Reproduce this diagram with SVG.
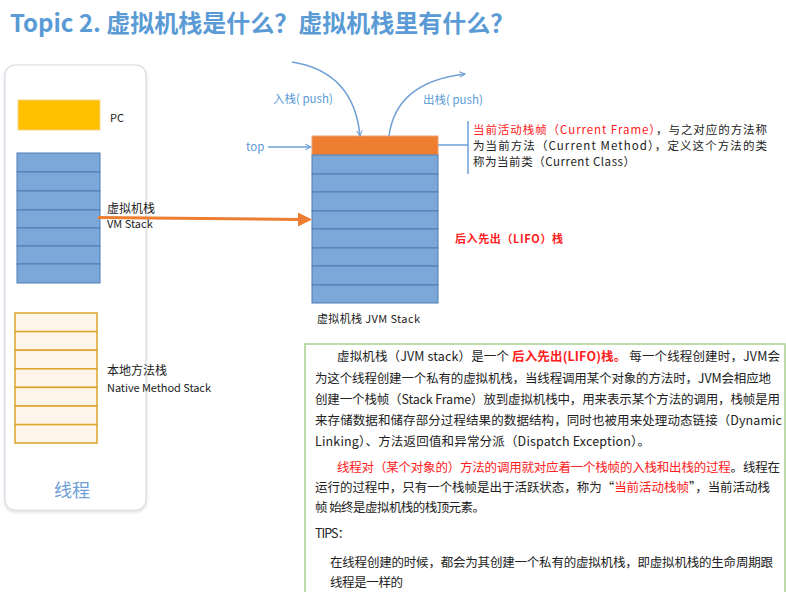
<svg xmlns="http://www.w3.org/2000/svg" width="786" height="592" viewBox="0 0 786 592">
<style>
text{font-family:"Noto Sans CJK SC","Noto Sans",sans-serif;}
.title{font-size:24px;font-weight:bold;fill:#5B9BD5;}
.lbl{font-size:11px;fill:#222;}
.blue{fill:#7BA7D9;stroke:#4E7DB3;stroke-width:1;}
.nat{fill:#FDF5EA;stroke:#DDA52A;stroke-width:1.5;}
.body{font-size:12.5px;fill:#222;}
.note{font-size:11.5px;fill:#222;}
.red{fill:#FF2020;}
.bl{font-size:11.5px;fill:#5B9BD5;}
.conn{fill:none;stroke:#6FA0D6;stroke-width:1.5;}
</style>
<defs>
<marker id="ah" viewBox="0 0 10 10" refX="9" refY="5" markerWidth="7" markerHeight="7" orient="auto" markerUnits="userSpaceOnUse">
<path d="M1,1 L9,5 L1,9" fill="none" stroke="#6FA0D6" stroke-width="1.5"/>
</marker>
<filter id="sh" x="-10%" y="-10%" width="120%" height="120%">
<feDropShadow dx="0" dy="1.5" stdDeviation="1.5" flood-color="#000" flood-opacity="0.15"/>
</filter>
</defs>
<rect width="786" height="592" fill="#fff"/>
<text class="title" x="10" y="32">Topic 2. 虚拟机栈是什么？虚拟机栈里有什么？</text>

<g id="thread">
<rect x="5" y="65" width="141" height="445" rx="10" fill="#fff" stroke="#D5DCE4" stroke-width="1.2" filter="url(#sh)"/>
<text x="72" y="497" text-anchor="middle" font-size="18" fill="#6FA0D6">线程</text>
</g>

<g id="pc">
<rect x="18" y="100" width="82" height="30" fill="#FFC000" stroke="#F5D58A" stroke-width="1"/>
<text class="lbl" x="110" y="122">PC</text>
</g>

<g id="vm-stack">
<rect class="blue" x="17" y="153" width="83" height="19"/>
<rect class="blue" x="17" y="172" width="83" height="19"/>
<rect class="blue" x="17" y="191" width="83" height="19"/>
<rect class="blue" x="17" y="210" width="83" height="18"/>
<rect class="blue" x="17" y="228" width="83" height="18"/>
<rect class="blue" x="17" y="246" width="83" height="18"/>
<rect class="blue" x="17" y="264" width="83" height="19"/>
<text x="107" y="213" font-size="12" fill="#222">虚拟机栈</text>
<text class="lbl" x="107" y="228">VM Stack</text>
</g>

<g id="native-stack">
<rect class="nat" x="15" y="313" width="82" height="18.6"/>
<rect class="nat" x="15" y="331.6" width="82" height="18.6"/>
<rect class="nat" x="15" y="350.2" width="82" height="18.6"/>
<rect class="nat" x="15" y="368.8" width="82" height="18.6"/>
<rect class="nat" x="15" y="387.4" width="82" height="18.6"/>
<rect class="nat" x="15" y="406" width="82" height="18.6"/>
<rect class="nat" x="15" y="424.6" width="82" height="18.4"/>
<text x="107" y="375" font-size="12" fill="#222">本地方法栈</text>
<text class="lbl" x="107" y="392" textLength="104" lengthAdjust="spacing">Native Method Stack</text>
</g>

<g id="jvm-stack">
<rect x="312" y="136" width="126" height="19" fill="#ED7D31" stroke="#F0A070" stroke-width="1"/>
<rect class="blue" x="312" y="155" width="126" height="19"/>
<rect class="blue" x="312" y="174" width="126" height="18"/>
<rect class="blue" x="312" y="192" width="126" height="19"/>
<rect class="blue" x="312" y="211" width="126" height="18"/>
<rect class="blue" x="312" y="229" width="126" height="19"/>
<rect class="blue" x="312" y="248" width="126" height="18"/>
<rect class="blue" x="312" y="266" width="126" height="19"/>
<rect class="blue" x="312" y="285" width="126" height="18"/>
<text class="lbl" x="317" y="323" textLength="103" lengthAdjust="spacing">虚拟机栈 JVM Stack</text>
</g>

<g id="current-frame-note">
<text class="note" x="473" y="134" textLength="294" lengthAdjust="spacing"><tspan class="red">当前活动栈帧（Current Frame）</tspan>，与之对应的方法称</text>
<text class="note" x="473" y="150" textLength="294" lengthAdjust="spacing">为当前方法（Current Method），定义这个方法的类</text>
<text class="note" x="473" y="166" textLength="162" lengthAdjust="spacing">称为当前类（Current Class）</text>
</g>

<g id="lifo-note">
<text x="455" y="243" font-size="11" font-weight="bold" class="red" textLength="108" lengthAdjust="spacing">后入先出（LIFO）栈</text>
</g>

<g id="labels">
<text class="bl" x="273" y="103">入栈( push)</text>
<text class="bl" x="423" y="104">出栈( push)</text>
<text class="bl" x="246" y="151">top</text>
</g>

<g id="connectors">
<path class="conn" d="M292,62 Q354,72 360,136" marker-end="url(#ah)"/>
<path class="conn" d="M389,136 Q396,82 465,74" marker-end="url(#ah)"/>
<path class="conn" d="M268,147 L311,147" marker-end="url(#ah)"/>
<path class="conn" stroke-width="1.2" d="M438,145 L468,145 M468,121 L468,174"/>
<path d="M98,217.5 L300,219.5" stroke="#ED7D31" stroke-width="3" fill="none"/>
<path d="M298,212.5 L312,219.5 L298,226.5 Z" fill="#ED7D31"/>
</g>

<g id="description">
<rect x="305" y="344" width="480" height="260" fill="#fff" stroke="#A9D18E" stroke-width="1.5"/>
<text class="body" x="337" y="361" textLength="443" lengthAdjust="spacing">虚拟机栈（JVM stack）是一个 <tspan class="red" font-weight="bold">后入先出(LIFO)栈。</tspan> 每一个线程创建时，JVM会</text>
<text class="body" x="315" y="383" textLength="456" lengthAdjust="spacing">为这个线程创建一个私有的虚拟机栈，当线程调用某个对象的方法时，JVM会相应地</text>
<text class="body" x="315" y="404" textLength="465" lengthAdjust="spacing">创建一个栈帧（Stack Frame）放到虚拟机栈中，用来表示某个方法的调用，栈帧是用</text>
<text class="body" x="315" y="425" textLength="467" lengthAdjust="spacing">来存储数据和储存部分过程结果的数据结构，同时也被用来处理动态链接（Dynamic</text>
<text class="body" x="315" y="446" textLength="335" lengthAdjust="spacing">Linking）、方法返回值和异常分派（Dispatch Exception）。</text>
<text class="body" x="337" y="472" textLength="443" lengthAdjust="spacing"><tspan class="red">线程对（某个对象的）方法的调用就对应着一个栈帧的入栈和出栈的过程</tspan>。线程在</text>
<text class="body" x="315" y="492" textLength="455" lengthAdjust="spacing">运行的过程中，只有一个栈帧是出于活跃状态，称为“<tspan class="red">当前活动栈帧</tspan>”，当前活动栈</text>
<text class="body" x="315" y="512" textLength="170" lengthAdjust="spacing">帧 始终是虚拟机栈的栈顶元素。</text>
<text class="body" x="315" y="538" textLength="35" lengthAdjust="spacing">TIPS：</text>
<text class="body" x="330" y="567" textLength="443" lengthAdjust="spacing">在线程创建的时候，都会为其创建一个私有的虚拟机栈，即虚拟机栈的生命周期跟</text>
<text class="body" x="330" y="587" textLength="73" lengthAdjust="spacing">线程是一样的</text>
</g>
</svg>
